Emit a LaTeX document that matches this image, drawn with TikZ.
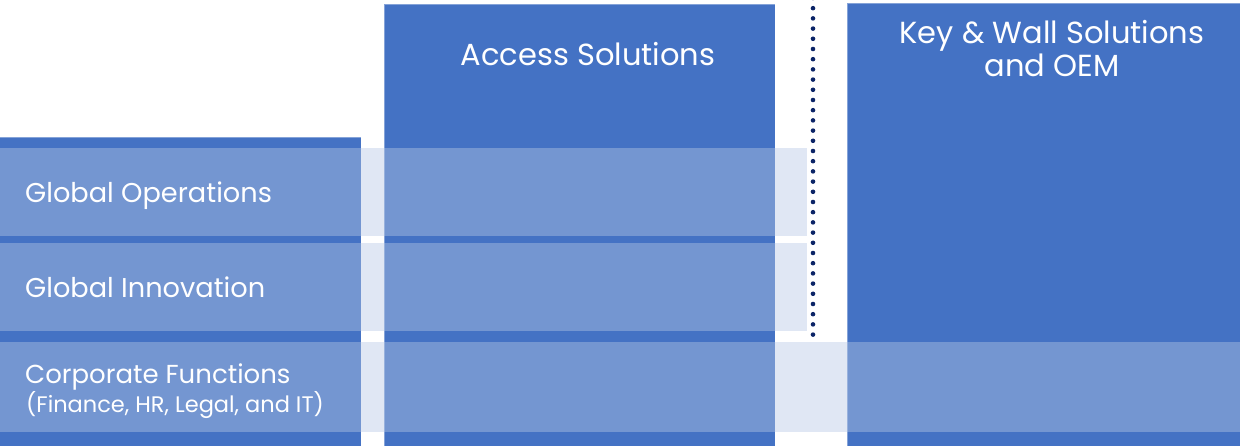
\documentclass[tikz,border=0pt]{standalone}
\usepackage{fontspec}
\setmainfont{Poppins}
\definecolor{colblue}{HTML}{4472C4}
\definecolor{bandcol}{HTML}{B7C8E5}
\definecolor{dotnavy}{HTML}{0B2467}
\begin{document}
\begin{tikzpicture}[x=1pt,y=-1pt,
  column/.style={fill=colblue,draw=white,draw opacity=0.35,line width=0.8pt},
  band/.style={fill=bandcol,fill opacity=0.42,draw=none},
  lbl/.style={text=white,inner sep=0pt,font=\fontsize{27.2}{32}\selectfont},
  head/.style={text=white,inner sep=0pt,font=\fontsize{30.5}{36}\selectfont},
  sublbl/.style={text=white,inner sep=0pt,font=\fontsize{22.5}{26}\selectfont}]
\useasboundingbox (0,0) rectangle (1240,446);
\fill[white] (0,0) rectangle (1240,446);
% columns
\draw[column] (-2,137) rectangle (361,448);
\draw[column] (384,4) rectangle (775,448);
\draw[column] (847,3) rectangle (1242,448);
% bands
\fill[band] (0,148) rectangle (807,236);
\fill[band] (0,243) rectangle (807,331);
\fill[band] (0,342) rectangle (1240,432);
% dotted divider
\coordinate (dtop) at (813,-2);
\coordinate (dbot) at (813,341);
\draw[dotnavy,line width=4.6pt,line cap=round,dash pattern=on 0pt off 10.2pt] (dtop) -- (dbot);
% labels
\node[lbl,anchor=base west] (ops) at (25,203) {Global Operations};
\node[lbl,anchor=base west] (inn) at (25,298) {Global Innovation};
\node[lbl,font=\fontsize{26}{30}\selectfont,anchor=base west] (corp) at (25,384) {Corporate Functions};
\node[sublbl,anchor=base west] (corpsub) at (26,412) {(Finance, HR, Legal, and IT)};
\node[head,anchor=base] (acc) at (588,66) {Access Solutions};
\node[head,anchor=base] (key1) at (1052,44) {Key \& Wall Solutions};
\node[head,anchor=base] (key2) at (1052,77) {and OEM};
\end{tikzpicture}
\end{document}
